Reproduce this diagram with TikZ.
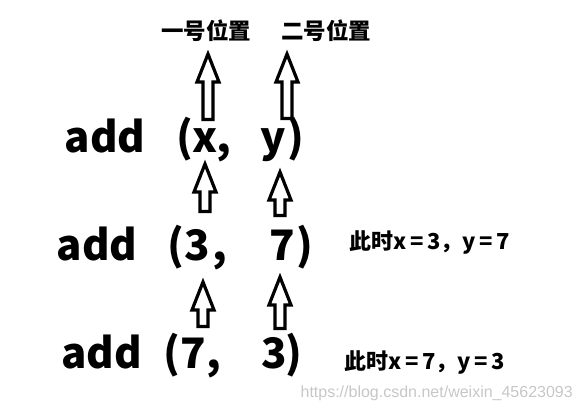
\documentclass[tikz,border=0pt]{standalone}
\usepackage{fontspec}
\setmainfont{Noto Sans CJK SC}
\newfontfamily\urlfont{Liberation Sans}
\usetikzlibrary{calc}

\tikzset{
  big/.style={anchor=base, inner sep=0pt, font=\fontsize{42}{42}\selectfont\bfseries},
  place/.style={anchor=base west, inner sep=0pt, font=\fontsize{22.5}{22.5}\selectfont\bfseries},
  note/.style={anchor=base west, inner sep=0pt, font=\fontsize{22}{22}\selectfont\bfseries},
  hollow/.style={draw, line width=3.2pt, fill=white, miter limit=10}
}

\newcommand{\hollowup}[2]{%
  \draw[hollow] let \p1=(#1), \p2=(#2) in
    (\x2,\y2) -- (\x2+11pt,\y2-28pt) -- (\x2+5pt,\y2-28pt) -- (\x2+5pt,\y1)
    -- (\x2-5pt,\y1) -- (\x2-5pt,\y2-28pt) -- (\x2-11pt,\y2-28pt) -- cycle;}

\begin{document}
\begin{tikzpicture}[x=1pt, y=-1pt]

    \useasboundingbox (0,0) rectangle (582,413);

    \node[place] (one) at (161,39) {一号位置};
    \node[place] (two) at (281,39) {二号位置};

    % add(x, y)
    \node[big] (add1) at (105,152) {add};
    \node[big] (lp1) at (185,152) {(};
    \node[big] (x1) at (205,152) {x};
    \node[big] (cm1) at (224,152) {,};
    \node[big] (y1) at (273.5,152) {y};
    \node[big] (rp1) at (296,152) {)};

    % add(3, 7)
    \node[big] (add2) at (97,260) {add};
    \node[big] (lp2) at (175.5,260) {(};
    \node[big] (a2) at (197.5,260) {3};
    \node[big] (cm2) at (220,260) {,};
    \node[big] (b2) at (282.5,260) {7};
    \node[big] (rp2) at (304.5,260) {)};

    % add(7, 3)
    \node[big] (add3) at (101.5,368) {add};
    \node[big] (lp3) at (171.5,368) {(};
    \node[big] (a3) at (193.5,368) {7};
    \node[big] (cm3) at (214,368) {,};
    \node[big] (b3) at (274.5,368) {3};
    \node[big] (rp3) at (294,368) {)};

    \node[note] (now1) at (349,249) {此时x\,=\,3，y\,=\,7};
    \node[note] (now2) at (344,369) {此时x\,=\,7，y\,=\,3};

    \node[anchor=base east, inner sep=0pt, text=black!22, font=\urlfont\fontsize{16}{16}\selectfont] (mark) at (573,397) {https://blog.csdn.net/weixin\_45623093};

    % arrow ends
    \coordinate (xtop) at (208,54);   \coordinate (xfoot) at (208,119.5);
    \coordinate (ytop) at (287,54);   \coordinate (yfoot) at (287,118.5);
    \coordinate (xtop2) at (205,164); \coordinate (xfoot2) at (205,211.5);
    \coordinate (ytop2) at (280,172); \coordinate (yfoot2) at (280,215.5);
    \coordinate (xtop3) at (203,282); \coordinate (xfoot3) at (203,326.5);
    \coordinate (ytop3) at (280,277); \coordinate (yfoot3) at (280,328.5);

    \hollowup{xfoot}{xtop}
    \hollowup{yfoot}{ytop}
    \hollowup{xfoot2}{xtop2}
    \hollowup{yfoot2}{ytop2}
    \hollowup{xfoot3}{xtop3}
    \hollowup{yfoot3}{ytop3}

\end{tikzpicture}
\end{document}
